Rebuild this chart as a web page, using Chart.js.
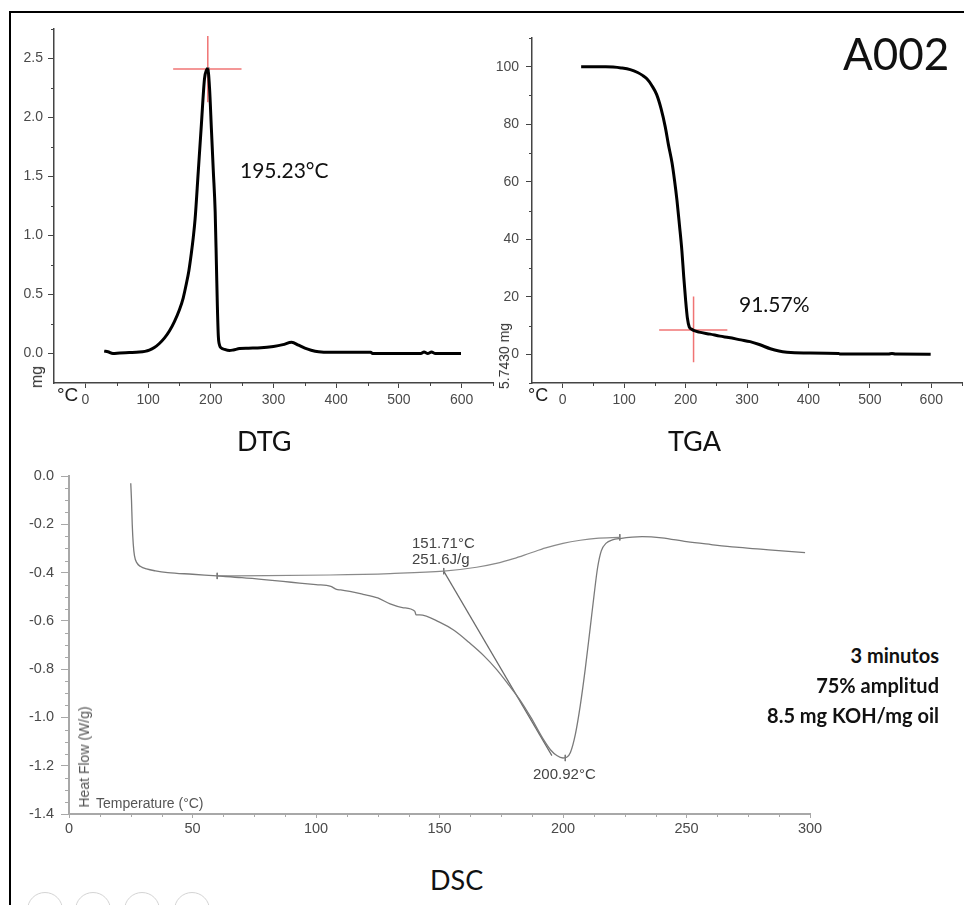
<!DOCTYPE html>
<html>
<head>
<meta charset="utf-8">
<script src="https://cdn.jsdelivr.net/npm/chart.js@4.4.1/dist/chart.umd.min.js"></script>
<style>
  html,body{margin:0;padding:0;background:#fff;}
  #wrap{position:relative;width:964px;height:905px;overflow:hidden;background:#fff;}
  canvas{position:absolute;}
  .t{position:absolute;white-space:nowrap;line-height:1;}
  .lato{font-family:Lato,"Open Sans",sans-serif;color:#111;}
  .ar{font-family:"Liberation Sans",Arial,sans-serif;}
  .frame{position:absolute;left:9px;top:11px;width:960px;height:900px;border-top:2px solid #000;border-left:2px solid #000;}
  .circ{position:absolute;width:34px;height:34px;border-radius:50%;border:1px solid #d4d4d4;top:892px;}
</style>
</head>
<body>
<div id="wrap">
  <div class="frame"></div>
  <canvas id="dtg"></canvas>
  <canvas id="tga"></canvas>
  <canvas id="dsc"></canvas>

  <div class="t lato" style="left:240px;top:159px;font-size:21px;">195.23°C</div>
  <div class="t lato" style="left:739px;top:293px;font-size:21px;">91.57%</div>
  <div class="t lato" style="left:843px;top:31px;font-size:44px;">A002</div>
  <div class="t lato" style="left:237px;top:427px;font-size:27px;">DTG</div>
  <div class="t lato" style="left:668px;top:427px;font-size:27px;">TGA</div>
  <div class="t lato" style="left:430px;top:866px;font-size:27px;">DSC</div>
  <div class="t lato" style="right:25px;top:645px;font-size:20px;font-weight:700;text-align:right;">3 minutos</div>
  <div class="t lato" style="right:25px;top:675px;font-size:20px;font-weight:700;text-align:right;">75% amplitud</div>
  <div class="t lato" style="right:25px;top:705px;font-size:20px;font-weight:700;text-align:right;">8.5 mg KOH/mg oil</div>

  <div class="t ar" style="left:57px;top:385px;font-size:19px;color:#222;">°C</div>
  <div class="t ar" style="left:528px;top:386px;font-size:18px;color:#222;">°C</div>
  <div class="t ar" style="left:36.5px;top:376.5px;font-size:16px;color:#333;transform:translate(-50%,-50%) rotate(-90deg);">mg</div>
  <div class="t ar" style="left:504px;top:356px;font-size:14px;color:#333;transform:translate(-50%,-50%) rotate(-90deg);">5.7430 mg</div>

  <div class="t ar" style="left:412px;top:535px;font-size:15px;color:#444;">151.71°C</div>
  <div class="t ar" style="left:412px;top:551px;font-size:15px;color:#444;">251.6J/g</div>
  <div class="t ar" style="left:533px;top:766px;font-size:15px;color:#444;">200.92°C</div>
  <div class="t ar" style="left:84px;top:757px;font-size:14px;color:#555;transform:translate(-50%,-50%) rotate(-90deg);">Heat Flow (W/g)</div>
  <div class="t ar" style="left:96px;top:796px;font-size:14px;color:#555;">Temperature (°C)</div>

  <div class="circ" style="left:27px;"></div>
  <div class="circ" style="left:75px;"></div>
  <div class="circ" style="left:124px;"></div>
  <div class="circ" style="left:174px;"></div>
</div>

<script>
// ---------------- DATA ----------------
// DTG (derivative weight, mg) vs temperature (°C)
const dtgTemp = [30,36,44,55,70,86,95,102,110,118,126,134,142,150,156,161,165,169,172,175,180,185,190,193,195.2,198,201,204,207,209,210.5,212,214,216,222,230,236,246,260,280,300,315,329,340,350,360,372,390,455,458,535,540,546,552,558,599];
const dtgMass = [0.02,0.015,0.0,0.005,0.008,0.012,0.018,0.028,0.05,0.085,0.13,0.19,0.27,0.37,0.47,0.59,0.70,0.85,0.98,1.14,1.54,1.94,2.33,2.40,2.41,2.25,1.90,1.55,1.20,0.75,0.40,0.15,0.07,0.05,0.035,0.025,0.03,0.042,0.045,0.048,0.06,0.075,0.095,0.07,0.045,0.028,0.015,0.01,0.01,0.0,0.0,0.012,0.0,0.012,0.0,0.0];
const dtgPeakTemp = [195.23];
const dtgPeakMass = [2.41];
const dtgCrossHTemp = [140, 249];
const dtgCrossVMass = [2.69, 2.13];
const dtgXTicks = [0,100,200,300,400,500,600];
const dtgXLabels = ['0','100','200','300','400','500','600'];
const dtgXMinor = [50,150,250,350,450,550,650];
const dtgYTicks = [0,0.5,1.0,1.5,2.0,2.5];
const dtgYLabels = ['0.0','0.5','1.0','1.5','2.0','2.5'];
const dtgYMinor = [0.25,0.75,1.25,1.75,2.25,2.75];

// TGA (weight %) vs temperature (°C)
const tgaTemp = [30,50,70,82,95,110,122,130,137,145,153,160,167,172,178,182,186,190,194,197,200,203,206,210,213,222,240,256,270,290,305,320,338,352,365,392,449,452,530,536,542,599];
const tgaWeight = [100,100,100,99.9,99.6,99.0,98.0,97.0,95.8,93.5,90.3,85.5,79.0,73.0,66.5,60.5,53.5,45.0,36.0,27.0,19.0,12.5,9.5,8.7,8.3,7.7,7.0,6.3,5.8,5.0,4.4,3.4,1.9,1.1,0.7,0.45,0.3,0.05,0.05,0.3,0.05,0.0];
const tgaMarkTemp = [213];
const tgaMarkWeight = [8.4];
const tgaCrossHTemp = [157, 268];
const tgaCrossVWeight = [20.1, -2.8];
const tgaXTicks = [0,100,200,300,400,500,600];
const tgaXLabels = ['0','100','200','300','400','500','600'];
const tgaXMinor = [50,150,250,350,450,550,650];
const tgaYTicks = [0,20,40,60,80,100];
const tgaYLabels = ['0','20','40','60','80','100'];
const tgaYMinor = [-10,10,30,50,70,90,110];

// DSC heat flow (W/g) vs temperature (°C)
const dscTemp = [25.0,25.3,25.6,26.0,26.5,27.5,29,31.4,35,40,50,60,70,80,90,100,106,108.3,110,119,125,130,135,140,140.5,142,150,156,162,168,173,178,182.4,187,192,195,197.5,200,201.5,203,205,207,209,211,212.5,214,215.5,217.5,220,223,232,240,250,260,270,280,290,298];
const dscFlow = [-0.03,-0.10,-0.20,-0.28,-0.33,-0.36,-0.375,-0.385,-0.393,-0.400,-0.407,-0.414,-0.421,-0.430,-0.440,-0.450,-0.457,-0.470,-0.472,-0.490,-0.505,-0.530,-0.545,-0.560,-0.575,-0.575,-0.605,-0.640,-0.690,-0.745,-0.800,-0.865,-0.925,-1.00,-1.09,-1.135,-1.158,-1.168,-1.165,-1.145,-1.07,-0.95,-0.80,-0.63,-0.50,-0.38,-0.31,-0.278,-0.265,-0.259,-0.251,-0.256,-0.272,-0.284,-0.295,-0.303,-0.311,-0.317];
const dscBaseTemp = [60,80,105.6,130,151.71,165,173,180,186.5,193,200,207,213.4,223];
const dscBaseFlow = [-0.414,-0.413,-0.410,-0.404,-0.394,-0.378,-0.362,-0.342,-0.320,-0.298,-0.279,-0.266,-0.258,-0.254];
const dscTangentTemp = [151.71,195.5];
const dscTangentFlow = [-0.394,-1.158];
const dscMarkTemp = [60,151.71,223,200.92];
const dscMarkFlow = [-0.414,-0.394,-0.254,-1.168];
const dscXTicks = [0,50,100,150,200,250,300];
const dscXLabels = ['0','50','100','150','200','250','300'];
const dscXMinor = [12.5,25,37.5,62.5,75,87.5,112.5,125,137.5,162.5,175,187.5,212.5,225,237.5,262.5,275,287.5];
const dscYTicks = [0,-0.2,-0.4,-0.6,-0.8,-1.0,-1.2,-1.4];
const dscYLabels = ['0.0','-0.2','-0.4','-0.6','-0.8','-1.0','-1.2','-1.4'];
const dscYMinor = [-0.05,-0.1,-0.15,-0.25,-0.3,-0.35,-0.45,-0.5,-0.55,-0.65,-0.7,-0.75,-0.85,-0.9,-0.95,-1.05,-1.1,-1.15,-1.25,-1.3,-1.35];

// ---------------- HELPERS ----------------
const pts = (xs, ys) => xs.map((x, i) => ({x: x, y: ys[i]}));

function minorPlugin(spec) {
  return {
    id: 'minorTicks',
    afterDraw(chart) {
      const ctx = chart.ctx;
      ctx.save();
      ctx.strokeStyle = spec.color;
      ctx.lineWidth = spec.width;
      const xs = chart.scales.x, ys = chart.scales.y;
      spec.x.forEach(v => {
        const p = Math.round(xs.getPixelForValue(v)) + 0.5;
        ctx.beginPath(); ctx.moveTo(p, xs.top); ctx.lineTo(p, xs.top + spec.xLen); ctx.stroke();
      });
      spec.y.forEach(v => {
        const p = Math.round(ys.getPixelForValue(v)) + 0.5;
        ctx.beginPath(); ctx.moveTo(ys.right - spec.yLen, p); ctx.lineTo(ys.right, p); ctx.stroke();
      });
      ctx.restore();
    }
  };
}

function makeChart(id, area, yW, xH, pad, datasets, sc) {
  const cv = document.getElementById(id);
  const w = (area.R - area.L) + yW + pad.l + pad.r;
  const h = (area.B - area.T) + xH + pad.t + pad.b;
  cv.width = w; cv.height = h;
  cv.style.left = (area.L - yW - pad.l) + 'px';
  cv.style.top = (area.T - pad.t) + 'px';
  cv.style.width = w + 'px'; cv.style.height = h + 'px';
  const font = {family: sc.fontFamily, size: sc.fontSize};
  return new Chart(cv, {
    type: 'line',
    data: {datasets: datasets},
    options: {
      responsive: false, animation: false, devicePixelRatio: 1,
      layout: {padding: {left: pad.l, right: pad.r, top: pad.t, bottom: pad.b}},
      plugins: {legend: {display: false}, tooltip: {enabled: false}},
      elements: {point: {radius: 0}},
      scales: {
        x: {
          type: 'linear', position: 'bottom', min: sc.xMin, max: sc.xMax,
          afterFit: s => { s.height = xH; },
          afterBuildTicks: s => { s.ticks = sc.xTicks.map(v => ({value: v})); },
          ticks: {autoSkip: false, maxRotation: 0, font: font, color: sc.labelColor, padding: sc.xPad,
                  callback: (v, i) => sc.xLabels[i]},
          grid: {drawOnChartArea: false, drawTicks: true, tickLength: sc.xTickLen, tickColor: sc.axisColor, tickWidth: 1},
          border: {display: true, color: sc.axisColor, width: sc.axisWidth}
        },
        y: {
          type: 'linear', position: 'left', min: sc.yMin, max: sc.yMax,
          afterFit: s => { s.width = yW; },
          afterBuildTicks: s => { s.ticks = sc.yTicks.map(v => ({value: v})); },
          ticks: {autoSkip: false, font: font, color: sc.labelColor, padding: sc.yPad,
                  callback: (v, i) => sc.yLabels[i]},
          grid: {drawOnChartArea: false, drawTicks: true, tickLength: sc.yTickLen, tickColor: sc.axisColor, tickWidth: 1},
          border: {display: true, color: sc.axisColor, width: sc.axisWidth}
        }
      }
    },
    plugins: [minorPlugin({x: sc.xMinor, y: sc.yMinor, xLen: sc.xMinorLen, yLen: sc.yMinorLen, color: sc.axisColor, width: 1})]
  });
}

const RED = '#f07474';

// ---------------- DTG ----------------
makeChart('dtg', {L: 54, T: 29, R: 493, B: 383}, 54, 37, {l: 0, r: 8, t: 24, b: 0}, [
  {data: pts(dtgTemp, dtgMass), borderColor: '#000', borderWidth: 3, cubicInterpolationMode: 'monotone', fill: false},
  {data: pts(dtgCrossHTemp, [dtgPeakMass[0], dtgPeakMass[0]]), borderColor: RED, borderWidth: 1.5, tension: 0},
  {data: pts([dtgPeakTemp[0], dtgPeakTemp[0]], dtgCrossVMass), borderColor: RED, borderWidth: 1.5, tension: 0},
  {data: pts(dtgPeakTemp, dtgPeakMass), showLine: false, pointRadius: 2.2, pointBackgroundColor: '#0d6b6b', pointBorderWidth: 0}
], {
  xMin: -50, xMax: 650, yMin: -0.25, yMax: 2.75,
  xTicks: dtgXTicks, xLabels: dtgXLabels, xMinor: dtgXMinor,
  yTicks: dtgYTicks, yLabels: dtgYLabels, yMinor: dtgYMinor,
  fontFamily: '"Liberation Sans", Arial, sans-serif', fontSize: 14, labelColor: '#4a4a4a',
  axisColor: '#444', axisWidth: 1.5, xTickLen: 5, yTickLen: 6, xMinorLen: 3, yMinorLen: 3, xPad: 4, yPad: 5
});

// ---------------- TGA ----------------
makeChart('tga', {L: 532, T: 38, R: 962, B: 383}, 52, 37, {l: 0, r: 2, t: 28, b: 0}, [
  {data: pts(tgaTemp, tgaWeight), borderColor: '#000', borderWidth: 3, cubicInterpolationMode: 'monotone', fill: false},
  {data: pts(tgaCrossHTemp, [tgaMarkWeight[0], tgaMarkWeight[0]]), borderColor: RED, borderWidth: 1.5, tension: 0},
  {data: pts([tgaMarkTemp[0], tgaMarkTemp[0]], tgaCrossVWeight), borderColor: RED, borderWidth: 1.5, tension: 0}
], {
  xMin: -50, xMax: 650, yMin: -10, yMax: 110,
  xTicks: tgaXTicks, xLabels: tgaXLabels, xMinor: tgaXMinor,
  yTicks: tgaYTicks, yLabels: tgaYLabels, yMinor: tgaYMinor,
  fontFamily: '"Liberation Sans", Arial, sans-serif', fontSize: 14, labelColor: '#4a4a4a',
  axisColor: '#444', axisWidth: 1.5, xTickLen: 5, yTickLen: 6, xMinorLen: 3, yMinorLen: 3, xPad: 4, yPad: 7
});

// ---------------- DSC ----------------
const markDatasets = dscMarkTemp.map((t, i) => ({
  data: pts([t, t], [dscMarkFlow[i] + 0.013, dscMarkFlow[i] - 0.013]),
  borderColor: '#777', borderWidth: 1, tension: 0
}));
makeChart('dsc', {L: 69, T: 476, R: 810, B: 814}, 60, 30, {l: 0, r: 20, t: 26, b: 0}, [
  {data: pts(dscTemp, dscFlow), borderColor: '#7a7a7a', borderWidth: 1.3, cubicInterpolationMode: 'monotone', fill: false},
  {data: pts(dscBaseTemp, dscBaseFlow), borderColor: '#8a8a8a', borderWidth: 1.2, cubicInterpolationMode: 'monotone', fill: false},
  {data: pts(dscTangentTemp, dscTangentFlow), borderColor: '#6a6a6a', borderWidth: 1.2, tension: 0},
  ...markDatasets
], {
  xMin: 0, xMax: 300, yMin: -1.4, yMax: 0,
  xTicks: dscXTicks, xLabels: dscXLabels, xMinor: dscXMinor,
  yTicks: dscYTicks, yLabels: dscYLabels, yMinor: dscYMinor,
  fontFamily: '"Liberation Sans", Arial, sans-serif', fontSize: 14.5, labelColor: '#4a4a4a',
  axisColor: '#a8a8a8', axisWidth: 2, xTickLen: 4, yTickLen: 8, xMinorLen: 3, yMinorLen: 4, xPad: 2, yPad: 7
});
</script>
</body>
</html>
